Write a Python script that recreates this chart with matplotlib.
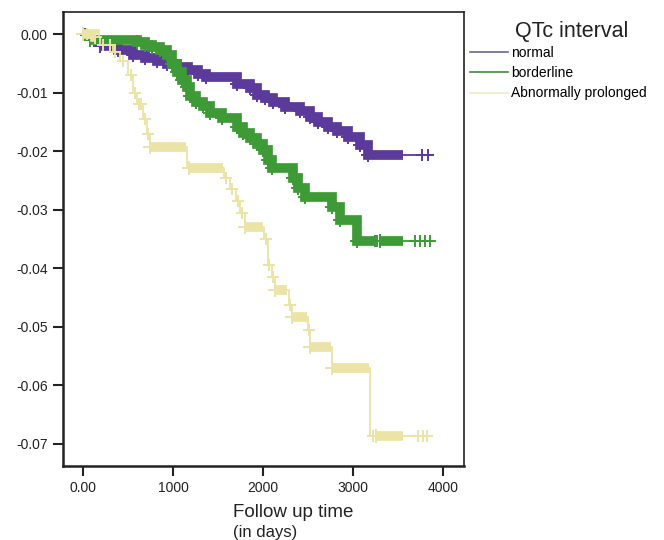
import numpy as np
import matplotlib
matplotlib.use("Agg")
import matplotlib.pyplot as plt
from matplotlib.lines import Line2D

plt.rcParams['font.family'] = ['Liberation Sans', 'DejaVu Sans']
plt.rcParams['axes.unicode_minus'] = False

# ---------------- data ----------------
legend_title = "QTc interval"
series_names = ["normal", "borderline", "Abnormally prolonged"]
series_colors = ["#5b3a9b", "#3e9a36", "#ebe4a6"]
legend_colors = ["#6d6390", "#3e8a3a", "#efeacb"]

end_time = [3878, 3878, 3878]

normal_t = [0, 78, 189, 389, 556, 689, 822, 933, 1044, 1167, 1278, 1367, 1711, 1856,
            1933, 2022, 2111, 2244, 2411, 2522, 2611, 2722, 2822, 2944, 3078, 3167]
normal_v = [0.0, -0.0010, -0.0020, -0.0027, -0.0035, -0.0041, -0.0046, -0.0051, -0.0056,
            -0.0061, -0.0068, -0.0073, -0.0085, -0.0092, -0.0104, -0.0109, -0.0116, -0.0124,
            -0.0132, -0.0141, -0.0150, -0.0158, -0.0166, -0.0175, -0.0190, -0.0207]
normal_bands = [(189, 3556)]
normal_censor = [22, 3767, 3833]

border_t = [0, 78, 600, 689, 767, 856, 933, 989, 1044, 1100, 1156, 1189, 1256, 1333, 1411,
            1544, 1711, 1778, 1856, 1933, 2000, 2056, 2100, 2333, 2389, 2467, 2767, 2856, 3044]
border_v = [-0.0002, -0.0010, -0.0014, -0.0018, -0.0022, -0.0027, -0.0035, -0.0050, -0.0065,
            -0.0078, -0.0090, -0.0105, -0.0115, -0.0122, -0.0135, -0.0143, -0.0158, -0.0168,
            -0.0178, -0.0188, -0.0198, -0.0215, -0.0228, -0.0245, -0.0262, -0.0278, -0.0295,
            -0.0317, -0.0353]
border_bands = [(78, 3230), (3300, 3560)]
border_censor = [30, 3244, 3270, 3689, 3744, 3800, 3856]

abn_t = [0, 133, 189, 333, 411, 500, 556, 600, 667, 711, 744, 1156, 1567, 1633, 1700, 1744,
         1800, 2011, 2056, 2100, 2133, 2289, 2322, 2500, 2522, 2767, 3189]
abn_v = [0.0, -0.0005, -0.0018, -0.0030, -0.0045, -0.0070, -0.0100, -0.0120, -0.0145, -0.0170,
         -0.0192, -0.0229, -0.0245, -0.0265, -0.0285, -0.0305, -0.0330, -0.0350, -0.0394,
         -0.0415, -0.0437, -0.0463, -0.0483, -0.0506, -0.0535, -0.0570, -0.0687]
abn_bands = [(0, 150), (744, 1150), (1180, 1560), (1800, 2000), (2133, 2270), (2322, 2490),
             (2522, 2760), (2767, 3180), (3260, 3560)]
abn_censor = [40, 220, 300, 360, 440, 530, 580, 620, 650, 690, 725, 1590, 1660, 1720, 1770,
              2030, 2070, 2115, 2300, 2510, 3222, 3722, 3778, 3822]

xticks = [0, 1000, 2000, 3000, 4000]
xtick_labels = ["0.00", "1000", "2000", "3000", "4000"]
yticks = [0.0, -0.01, -0.02, -0.03, -0.04, -0.05, -0.06, -0.07]
ytick_labels = ["0.00", "-0.01", "-0.02", "-0.03", "-0.04", "-0.05", "-0.06", "-0.07"]

# ---------------- plot ----------------
fig = plt.figure(figsize=(6.64, 5.40), dpi=100)
ax = fig.add_axes([63 / 664, 1 - 466 / 540, (464 - 63) / 664, (466 - 11.7) / 540])


def step_value(t_arr, v_arr, t):
    i = np.searchsorted(t_arr, t, side="right") - 1
    return v_arr[max(i, 0)]


def band_xy(t_arr, v_arr, a, b):
    xs = [a]
    ys = [step_value(t_arr, v_arr, a)]
    for tt, vv in zip(t_arr, v_arr):
        if a < tt < b:
            xs.append(tt)
            ys.append(vv)
    xs.append(b)
    ys.append(ys[-1])
    return xs, ys


all_series = [
    (normal_t, normal_v, normal_bands, normal_censor),
    (border_t, border_v, border_bands, border_censor),
    (abn_t, abn_v, abn_bands, abn_censor),
]

for k in [2, 1, 0]:
    t_arr, v_arr, bands, cens = all_series[k]
    t_arr = np.array(t_arr, dtype=float)
    v_arr = np.array(v_arr, dtype=float)
    col = series_colors[k]
    xs = np.append(t_arr, end_time[k])
    ys = np.append(v_arr, v_arr[-1])
    ax.step(xs, ys, where="post", color=col, lw=1.3, zorder=2 + k)
    for a, b in bands:
        bx, by = band_xy(t_arr, v_arr, a, b)
        ax.step(bx, by, where="post", color=col, lw=7, solid_capstyle="butt",
                solid_joinstyle="miter", zorder=2 + k)
        # censor ticks at the band's points give the jagged edge
        ax.plot(bx[:-1], by[:-1], linestyle="none", marker="+", ms=10, mew=1.4,
                color=col, zorder=2 + k)
    cv = [step_value(t_arr, v_arr, c) for c in cens]
    ax.plot(cens, cv, linestyle="none", marker="+", ms=8, mew=1.4, color=col, zorder=2 + k)

ax.set_xlim(-222, 4233)
ax.set_ylim(-0.0738, 0.00386)
ax.set_xticks(xticks)
ax.set_xticklabels(xtick_labels)
ax.set_yticks(yticks)
ax.set_yticklabels(ytick_labels)
ax.tick_params(axis="both", direction="out", length=7, width=1.5, labelsize=10,
               colors="#222222", pad=4)
ax.tick_params(top=False, right=False)
for s in ["left", "bottom"]:
    ax.spines[s].set_linewidth(1.8)
for s in ["top", "right"]:
    ax.spines[s].set_linewidth(1.2)
for s in ax.spines.values():
    s.set_color("#222222")

fig.text(233 / 664, 1 - 517 / 540, "Follow up time", fontsize=13.5, ha="left",
         va="baseline", color="#222222")
fig.text(233 / 664, 1 - 537 / 540, "(in days)", fontsize=12, ha="left",
         va="baseline", color="#222222")

fig.text(515 / 664, 1 - 37 / 540, legend_title, fontsize=15.5, ha="left",
         va="baseline", color="#222222")
handles = [Line2D([0], [0], color=c, lw=1.2) for c in legend_colors]
leg = fig.legend(handles, series_names, loc="upper left",
                 bbox_to_anchor=(470 / 664, 1 - 46 / 540), frameon=False,
                 fontsize=10, handlelength=2.7, handletextpad=0.25,
                 labelspacing=0.45, borderpad=0, borderaxespad=0)

fig.savefig("out.png", dpi=100)
